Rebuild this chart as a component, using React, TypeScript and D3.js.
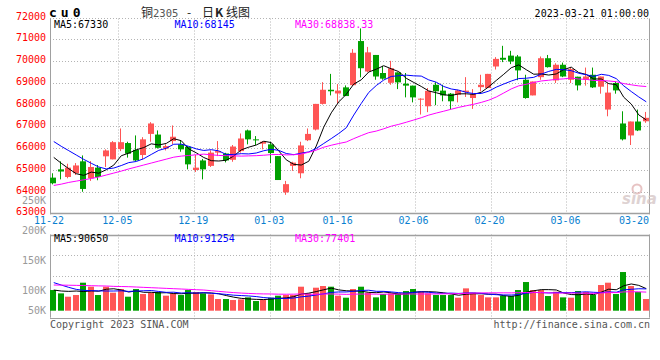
import React from "react";
import * as d3 from "d3";

// ---------- data ----------
const dates = ["11-22","11-23","11-24","11-25","11-28","11-29","11-30",
"12-01","12-02","12-05","12-06","12-07","12-08","12-09","12-12","12-13","12-14","12-15","12-16","12-19","12-20","12-21","12-22","12-23","12-26","12-27","12-28","12-29","12-30",
"01-03","01-04","01-05","01-06","01-09","01-10","01-11","01-12","01-13","01-16","01-17","01-18","01-19","01-20","01-30","01-31",
"02-01","02-02","02-03","02-06","02-07","02-08","02-09","02-10","02-13","02-14","02-15","02-16","02-17","02-20","02-21","02-22","02-23","02-24","02-27","02-28",
"03-01","03-02","03-03","03-06","03-07","03-08","03-09","03-10","03-13","03-14","03-15","03-16","03-17","03-20","03-21"];

const open = [64640,65020,64670,64840,65390,64610,65100,65620,65480,65950,
66230,65920,65680,66650,66620,65980,66320,66170,66060,64990,
65430,65180,65790,65750,65460,65860,66810,66400,66200,66170,
65630,63960,65180,64840,66360,66850,68030,68680,68510,68790,
68890,70920,69520,70280,69450,69000,69480,68960,68870,68240,
67920,68910,68640,68500,68450,68580,68300,68800,68760,69750,
70150,70250,70210,69140,68420,69260,70130,69110,69830,69140,
69280,69140,69370,68820,67770,68990,67130,66580,67220,67230];

const high = [64840,65390,65280,65310,65660,65400,65220,65940,66320,66900,
66290,66580,66500,67190,66810,66170,67040,66350,66090,65680,
65500,65890,66320,65780,66140,66670,66850,66550,66320,66290,
65630,64490,65370,66290,66900,68030,69030,69410,68940,68880,
70550,71500,70650,70280,69780,70010,69480,69450,68870,68290,
68760,69030,68910,68530,68680,69260,68710,69370,69410,70180,
70700,70470,70280,69370,69060,70210,70280,69900,69930,69700,
69280,69700,69700,69290,68990,69060,67690,67220,67770,67660];

const low = [64330,64560,64610,64760,63990,64490,64520,65130,65480,65860,
65560,65400,65480,66290,65980,65890,66170,65830,65020,64900,
64560,65130,65630,65340,65370,65790,66170,66140,65940,65310,
64530,63850,64950,64610,66320,66810,68000,68420,68060,68390,
68860,69250,69490,69140,69140,68910,68710,68330,68100,67540,
67650,67970,68150,67770,68100,68350,67800,68610,68760,69610,
69950,69860,69120,68270,68420,69140,69700,68990,69260,68990,
68650,68870,68760,68500,67460,68500,66350,66140,66780,67160];

const close = [64380,64920,65100,65200,64120,65130,64670,65890,66270,66270,
65740,65430,66400,67130,66010,66090,66520,65940,65250,65100,
65020,65790,65860,65430,66070,66440,66400,66360,66290,65770,
64530,64340,65330,66120,66650,68030,68680,68610,68640,68390,
70380,69670,70400,69290,69190,69670,69020,68870,68330,68270,
68630,68610,68420,68150,68650,68640,68480,68910,69410,70100,
70060,69980,69570,68300,69060,70130,69720,69830,69290,69630,
68880,69290,68790,69290,68550,68650,66400,67220,66810,67390];

const volume = [86800,72800,58800,65800,117600,100800,65800,100800,75600,91000,
58800,91000,70000,75600,78400,63000,72800,65800,86800,78400,
72800,68600,49000,49000,44800,47600,56000,40600,44800,54600,
63000,65800,65800,100800,72800,96600,103600,100800,63000,54600,
91000,100800,75600,56000,70000,72800,72800,82600,91000,79800,
72800,65800,65800,65800,54600,93800,75600,65800,56000,56000,
63000,61600,86800,120400,86800,86800,61600,79800,56000,54600,
82600,78400,65800,107800,117600,70000,162400,103600,78400,49000];

// moving-average values before enough history is on screen
const ma5Lead = [65570,65300,65050,64820];
const ma10Lead = [66300,66080,65880,65680,65480,65300,65130,65040,65080];
const ma30Lead = [64280,64340,64420,64480,64540,64600,64670,64760,64850,64940,
65040,65130,65220,65310,65400,65490,65580,65630,65660,65690,
65720,65690,65660,65650,65640,65630,65640,65650,65670];
const vMa5Lead = [86800,82600,81200,82600];
const vMa10Lead = [118000,107800,98000,89600,85400,84000,83300,82600,82600];
const vMa30Lead = [107800,107500,107000,106400,105600,105000,104200,103600,102200,101500,
100800,99400,98000,96600,95200,93800,92400,91000,89600,88200,
86800,84000,81200,78400,76000,74000,72500,71200,70500];

const priceTicks = [72000,71000,70000,69000,68000,67000,66000,65000,64000,63000];
const dateTicks = ["11-22","12-05","12-19","01-03","01-16","02-06","02-20","03-06","03-20"];
const volTickLabels = ["250K","200K","150K","100K","50K"];
const priceLegend = ["MA5:67330","MA10:68145","MA30:68838.33"];
const volLegend = ["MA5:90650","MA10:91254","MA30:77401"];

// ---------- helpers ----------
function movingAvg(vals: number[], n: number, lead: number[]) {
  return vals.map((_, i) => (i >= n - 1 ? (d3.mean(vals.slice(i - n + 1, i + 1)) as number) : lead[i]));
}

const mono = "'DejaVu Sans Mono', monospace";
const RED = "#ff5555";
const GREEN = "#00a000";
const GRID = "#b4b4b4";
const AXIS = "#a0a0a0";
const LEG_COLORS = ["#000000", "#0000ff", "#ff00ff"];

export default function App() {
  const W = 660, H = 360;
  const left = 50, right = 650;
  const pTop = 17.55, pBottom = 213.3;
  const vTop = 234.5, vBase = 310.7, vBottom = 317.7;
  const n = dates.length;

  const y = d3.scaleLinear().domain([63000, 72000]).range([pBottom, pTop]);
  const band = d3.scaleBand<number>().domain(d3.range(n)).range([left, right]);
  const gx = d3.scaleLinear().domain([0, n - 1]).range([left, right]);
  const vy = d3.scaleLinear().domain([0, 320000]).range([vBase, vTop]);
  const cx = (i: number) => (band(i) as number) + band.bandwidth() / 2;

  const ma = [movingAvg(close, 5, ma5Lead), movingAvg(close, 10, ma10Lead), movingAvg(close, 30, ma30Lead)];
  const vma = [movingAvg(volume, 5, vMa5Lead), movingAvg(volume, 10, vMa10Lead), movingAvg(volume, 30, vMa30Lead)];

  const pLine = d3.line<number>().x((_, i) => cx(i)).y((d) => y(d));
  const vLine = d3.line<number>().x((_, i) => cx(i)).y((d) => vy(d));

  const snap = (v: number) => Math.round(v) + 0.5;
  const gridIdx = dateTicks.map((d) => dates.indexOf(d));

  return (
    <svg width={W} height={H} style={{ position: "absolute", left: 0, top: 0, background: "#fff" }}
      fontFamily={mono} fontSize={10}>
      <rect x={0} y={0} width={W} height={H} fill="#fff" />

      {/* header */}
      <text x={49} y={16.5} fontSize={13} fontWeight="bold" letterSpacing={4} fill="#000">cu0</text>
      <text y={16.5} fontSize={12} fill="#222" fontFamily="'Noto Sans CJK SC', sans-serif">
        <tspan x={141}>铜</tspan>
        <tspan x={153} fill="#555" fontFamily={mono} fontSize={10.5}>2305</tspan>
        <tspan x={187}>-</tspan>
        <tspan x={202}>日</tspan>
        <tspan x={215} fontWeight="bold">K</tspan>
        <tspan x={226}>线图</tspan>
      </text>
      <text x={649} y={16.5} textAnchor="end" fill="#000">2023-03-21 01:00:00</text>

      {/* price grid */}
      {priceTicks.slice(0, -1).map((p) => (
        <line key={p} x1={left} x2={right} y1={snap(y(p))} y2={snap(y(p))} stroke={GRID} strokeDasharray="1,2" />
      ))}
      {gridIdx.filter((i) => i > 0 && i < n - 2).map((i) => (
        <line key={i} x1={snap(gx(i))} x2={snap(gx(i))} y1={snap(y(72000))} y2={pBottom} stroke={GRID} strokeDasharray="1,2" />
      ))}
      {/* volume grid */}
      {[255, 275.7].map((yy) => (
        <line key={yy} x1={left} x2={right} y1={snap(yy)} y2={snap(yy)} stroke={GRID} strokeDasharray="1,2" />
      ))}
      {gridIdx.filter((i) => i > 0 && i < n - 2).map((i) => (
        <line key={"v" + i} x1={snap(gx(i))} x2={snap(gx(i))} y1={vTop} y2={vBottom + 2} stroke={GRID} strokeDasharray="1,2" />
      ))}

      {/* axes / borders */}
      <line x1={left + 0.5} x2={left + 0.5} y1={snap(y(72000))} y2={pBottom + 1} stroke={AXIS} />
      <line x1={right - 0.5} x2={right - 0.5} y1={snap(y(72000))} y2={pBottom + 1} stroke={AXIS} />
      <line x1={left} x2={right} y1={snap(pBottom)} y2={snap(pBottom)} stroke={AXIS} strokeWidth={1.5} />
      <line x1={left} x2={right} y1={snap(vTop)} y2={snap(vTop)} stroke={AXIS} strokeWidth={1.5} />
      <line x1={left} x2={right} y1={snap(vBottom)} y2={snap(vBottom)} stroke={AXIS} />
      <line x1={left + 0.5} x2={left + 0.5} y1={vTop} y2={vBottom} stroke={AXIS} />
      <line x1={right - 0.5} x2={right - 0.5} y1={vTop} y2={vBottom} stroke={AXIS} />

      {/* price labels */}
      {priceTicks.map((p) => (
        <text key={p} x={46} y={y(p) + 2} textAnchor="end" fill="#ff0000">{p}</text>
      ))}
      {/* volume labels */}
      {volTickLabels.map((t, k) => (
        <text key={t} x={46} y={(k < 4 ? 200 + 30 * k : 310) + 3.6} textAnchor="end" fill="#999">{t}</text>
      ))}
      {/* date labels */}
      {dateTicks.map((d) => {
        const xx = Math.min(gx(dates.indexOf(d)) - 1, right - 16);
        return (
          <text key={d} x={xx} y={224.3} textAnchor="middle" fill="#0a7fd0">{d}</text>
        );
      })}

      {/* sina watermark */}
      <g opacity={0.75}>
        <circle cx={637} cy={189} r={4.5} fill="none" stroke="#e0b0b0" strokeWidth={2} />
        <text x={622} y={204} fontSize={15} fontStyle="italic" fontWeight="bold" fill="#d4c4c4"
          fontFamily="'DejaVu Sans', sans-serif">sina</text>
      </g>

      {/* candles */}
      {dates.map((_, i) => {
        const up = close[i] >= open[i];
        const col = up ? RED : GREEN;
        const c = cx(i);
        const bx = Math.floor(c - 3);
        const top = y(Math.max(open[i], close[i]));
        const bot = y(Math.min(open[i], close[i]));
        return (
          <g key={i}>
            <line x1={bx + 2.5} x2={bx + 2.5} y1={y(high[i])} y2={y(low[i])} stroke={col} />
            <rect x={bx} y={top} width={6} height={Math.max(1, bot - top)} fill={col} />
          </g>
        );
      })}

      {/* price MA lines */}
      {ma.map((s, k) => (
        <path key={k} d={pLine(s) as string} fill="none" stroke={LEG_COLORS[k]} strokeWidth={1} />
      ))}

      {/* volume bars */}
      {volume.map((v, i) => {
        const up = close[i] >= open[i];
        const bx = Math.floor(cx(i) - 3);
        return <rect key={i} x={bx} y={vy(v)} width={6} height={vBase - vy(v)} fill={up ? RED : GREEN} />;
      })}
      {vma.map((s, k) => (
        <path key={k} d={vLine(s) as string} fill="none" stroke={LEG_COLORS[k]} strokeWidth={1} />
      ))}

      {/* legends */}
      {priceLegend.map((t, k) => (
        <text key={t} x={54 + 120.5 * k} y={27.6} fill={LEG_COLORS[k]}>{t}</text>
      ))}
      {volLegend.map((t, k) => (
        <text key={t} x={54 + 120.5 * k} y={242} fill={LEG_COLORS[k]}>{t}</text>
      ))}

      {/* footer */}
      <text x={50} y={327.5} fill="#555">Copyright 2023 SINA.COM</text>
      <text x={650} y={327.5} textAnchor="end" fill="#555">http://finance.sina.com.cn</text>
    </svg>
  );
}
